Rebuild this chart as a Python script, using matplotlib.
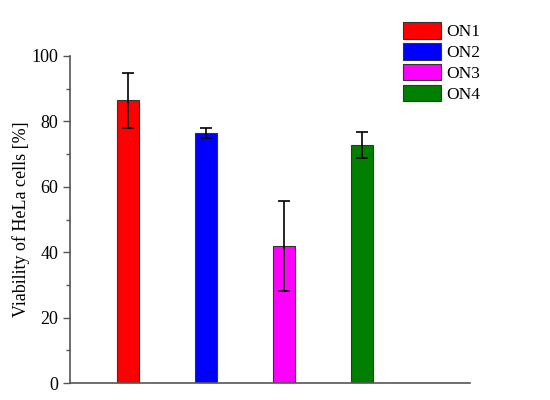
import numpy as np
import matplotlib.pyplot as plt
from matplotlib.ticker import MultipleLocator

plt.rcParams['font.family'] = ['Liberation Serif', 'DejaVu Serif']

labels = ['ON1', 'ON2', 'ON3', 'ON4']
viability = [86.4, 76.5, 42.0, 72.7]
errors = [8.5, 1.5, 13.8, 4.0]
colors = ['#ff0000', '#0000ff', '#ff00ff', '#007f00']

x = np.arange(1, len(labels) + 1)

fig = plt.figure(figsize=(5.5, 4), dpi=100)
ax = fig.add_axes([70 / 550, 17 / 400, 400 / 550, 327 / 400])

for xi, v, e, c, lab in zip(x, viability, errors, colors, labels):
    ax.bar(xi, v, width=0.28, color=c, edgecolor='#333333', linewidth=0.8, label=lab)
    ax.errorbar(xi, v, yerr=e, fmt='none', ecolor='black', elinewidth=1.2, capsize=4, capthick=1.2)

ax.set_xlim(0.256, 5.385)
ax.set_ylim(0, 100)
ax.yaxis.set_major_locator(MultipleLocator(20))
ax.yaxis.set_minor_locator(MultipleLocator(10))
ax.set_xticks([])
ax.spines['top'].set_visible(False)
ax.spines['right'].set_visible(False)
for s in ['left', 'bottom']:
    ax.spines[s].set_color('#555555')
    ax.spines[s].set_linewidth(1.2)
ax.tick_params(axis='y', which='major', direction='out', length=5, width=1, color='#555555', labelsize=13)
ax.tick_params(axis='y', which='minor', direction='out', length=3, width=1, color='#555555')
ax.set_ylabel('Viability of HeLa cells [%]', fontsize=13, labelpad=1)

fig.legend(loc='upper left', bbox_to_anchor=(403 / 550, 1 - 22 / 400), frameon=False,
           fontsize=12.5, handlelength=2.2, handleheight=1.1, handletextpad=0.3,
           labelspacing=0.15, borderaxespad=0, borderpad=0)

fig.savefig('out.png', dpi=100)
